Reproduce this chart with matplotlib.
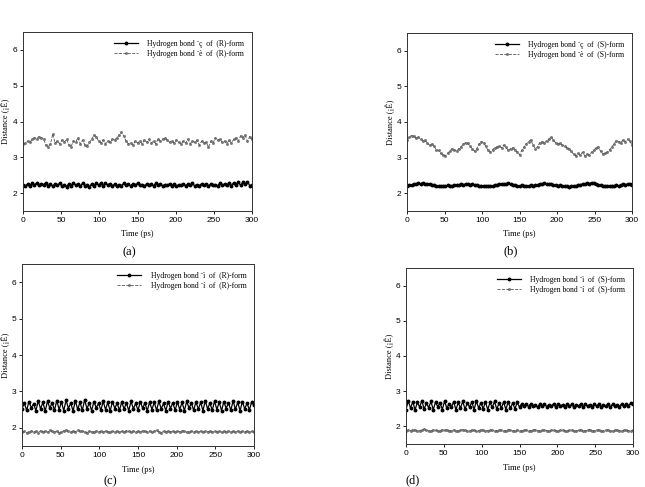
import matplotlib
matplotlib.use('Agg')
import matplotlib.pyplot as plt
import numpy as np

# 时间轴 (ps)，每 3 ps 读一个点
time_ps = np.arange(0, 301, 3)

# (a) (R)-form
a_bond1 = [2.22, 2.20, 2.25, 2.21, 2.27, 2.23, 2.28, 2.22, 2.26, 2.24,
           2.29, 2.21, 2.25, 2.19, 2.26, 2.22, 2.27, 2.20, 2.24, 2.18,
           2.26, 2.21, 2.28, 2.22, 2.25, 2.19, 2.27, 2.21, 2.24, 2.17,
           2.26, 2.20, 2.29, 2.22, 2.27, 2.21, 2.28, 2.23, 2.26, 2.20,
           2.25, 2.19, 2.24, 2.21, 2.27, 2.22, 2.25, 2.20, 2.26, 2.23,
           2.27, 2.22, 2.24, 2.20, 2.26, 2.23, 2.25, 2.21, 2.27, 2.22,
           2.25, 2.20, 2.24, 2.22, 2.26, 2.21, 2.25, 2.19, 2.24, 2.22,
           2.26, 2.21, 2.25, 2.22, 2.27, 2.20, 2.24, 2.21, 2.26, 2.23,
           2.25, 2.20, 2.26, 2.22, 2.24, 2.21, 2.27, 2.23, 2.25, 2.22,
           2.28, 2.21, 2.29, 2.24, 2.31, 2.22, 2.30, 2.25, 2.32, 2.21,
           2.22]
a_bond2 = [3.36, 3.40, 3.45, 3.42, 3.50, 3.55, 3.52, 3.58, 3.55, 3.50,
           3.35, 3.30, 3.38, 3.65, 3.40, 3.45, 3.38, 3.48, 3.42, 3.50,
           3.35, 3.30, 3.45, 3.42, 3.55, 3.38, 3.48, 3.35, 3.32, 3.42,
           3.50, 3.62, 3.58, 3.45, 3.40, 3.48, 3.38, 3.45, 3.42, 3.50,
           3.48, 3.55, 3.62, 3.70, 3.60, 3.45, 3.38, 3.40, 3.35, 3.45,
           3.40, 3.45, 3.38, 3.48, 3.42, 3.50, 3.40, 3.45, 3.38, 3.52,
           3.45, 3.50, 3.55, 3.48, 3.42, 3.45, 3.40, 3.48, 3.42, 3.38,
           3.45, 3.40, 3.50, 3.38, 3.45, 3.42, 3.48, 3.35, 3.45, 3.40,
           3.42, 3.28, 3.45, 3.40, 3.55, 3.48, 3.50, 3.42, 3.45, 3.38,
           3.48, 3.40, 3.50, 3.55, 3.45, 3.60, 3.55, 3.62, 3.45, 3.58,
           3.50]

# (b) (S)-form
b_bond1 = [2.20, 2.24, 2.22, 2.26, 2.25, 2.28, 2.26, 2.29, 2.27, 2.26,
           2.25, 2.23, 2.22, 2.20, 2.21, 2.19, 2.21, 2.20, 2.22, 2.19,
           2.21, 2.22, 2.24, 2.23, 2.25, 2.24, 2.26, 2.25, 2.24, 2.26,
           2.24, 2.22, 2.21, 2.19, 2.21, 2.20, 2.19, 2.21, 2.20, 2.23,
           2.24, 2.26, 2.25, 2.27, 2.26, 2.28, 2.25, 2.24, 2.22, 2.21,
           2.20, 2.22, 2.19, 2.21, 2.20, 2.22, 2.21, 2.23, 2.24, 2.26,
           2.25, 2.28, 2.26, 2.27, 2.25, 2.23, 2.22, 2.21, 2.22, 2.20,
           2.21, 2.19, 2.18, 2.20, 2.19, 2.21, 2.22, 2.24, 2.26, 2.25,
           2.28, 2.27, 2.30, 2.28, 2.26, 2.24, 2.22, 2.21, 2.20, 2.19,
           2.21, 2.19, 2.20, 2.22, 2.20, 2.23, 2.25, 2.24, 2.26, 2.25,
           2.24]
b_bond2 = [3.50, 3.58, 3.62, 3.60, 3.55, 3.58, 3.52, 3.48, 3.50, 3.40,
           3.35, 3.38, 3.32, 3.22, 3.20, 3.12, 3.08, 3.05, 3.12, 3.18,
           3.25, 3.22, 3.18, 3.25, 3.30, 3.38, 3.42, 3.40, 3.32, 3.25,
           3.18, 3.25, 3.38, 3.45, 3.42, 3.32, 3.20, 3.15, 3.22, 3.28,
           3.30, 3.32, 3.28, 3.35, 3.30, 3.20, 3.25, 3.28, 3.22, 3.15,
           3.08, 3.20, 3.30, 3.38, 3.45, 3.50, 3.35, 3.25, 3.30, 3.42,
           3.45, 3.40, 3.48, 3.52, 3.58, 3.50, 3.42, 3.38, 3.40, 3.35,
           3.32, 3.28, 3.25, 3.18, 3.10, 3.05, 3.12, 3.08, 3.15, 3.05,
           3.10, 3.08, 3.15, 3.20, 3.28, 3.30, 3.18, 3.10, 3.12, 3.15,
           3.22, 3.30, 3.38, 3.48, 3.45, 3.42, 3.50, 3.45, 3.52, 3.48,
           3.35]

# (c) (R)-form
c_bond1 = [2.52, 2.68, 2.48, 2.72, 2.55, 2.66, 2.47, 2.74, 2.52, 2.70,
           2.46, 2.73, 2.54, 2.69, 2.48, 2.75, 2.50, 2.71, 2.47, 2.76,
           2.53, 2.68, 2.46, 2.74, 2.51, 2.70, 2.48, 2.77, 2.52, 2.69,
           2.47, 2.72, 2.55, 2.67, 2.48, 2.73, 2.50, 2.70, 2.46, 2.72,
           2.53, 2.68, 2.48, 2.71, 2.51, 2.69, 2.47, 2.73, 2.52, 2.67,
           2.48, 2.72, 2.54, 2.68, 2.47, 2.71, 2.50, 2.70, 2.48, 2.73,
           2.52, 2.67, 2.47, 2.72, 2.53, 2.69, 2.48, 2.71, 2.50, 2.70,
           2.47, 2.73, 2.54, 2.68, 2.48, 2.72, 2.51, 2.70, 2.47, 2.74,
           2.52, 2.68, 2.48, 2.73, 2.50, 2.71, 2.47, 2.72, 2.53, 2.69,
           2.48, 2.74, 2.51, 2.70, 2.47, 2.72, 2.52, 2.68, 2.49, 2.71,
           2.62]
c_bond2 = [1.88, 1.90, 1.87, 1.89, 1.91, 1.88, 1.90, 1.87, 1.92, 1.89,
           1.91, 1.88, 1.93, 1.90, 1.88, 1.91, 1.87, 1.89, 1.92, 1.94,
           1.90, 1.88, 1.91, 1.89, 1.93, 1.90, 1.92, 1.88, 1.87, 1.90,
           1.89, 1.88, 1.91, 1.89, 1.90, 1.88, 1.91, 1.89, 1.88, 1.90,
           1.89, 1.91, 1.88, 1.90, 1.89, 1.92, 1.90, 1.88, 1.91, 1.89,
           1.90, 1.88, 1.92, 1.90, 1.89, 1.91, 1.88, 1.90, 1.93, 1.89,
           1.87, 1.90, 1.88, 1.91, 1.89, 1.90, 1.88, 1.91, 1.89, 1.92,
           1.90, 1.88, 1.89, 1.91, 1.88, 1.90, 1.89, 1.91, 1.88, 1.90,
           1.89, 1.91, 1.88, 1.90, 1.89, 1.91, 1.88, 1.90, 1.89, 1.91,
           1.88, 1.90, 1.89, 1.91, 1.88, 1.90, 1.89, 1.91, 1.88, 1.90,
           1.89]

# (d) (S)-form
d_bond1 = [2.48, 2.72, 2.52, 2.70, 2.47, 2.68, 2.55, 2.73, 2.49, 2.66,
           2.53, 2.71, 2.47, 2.69, 2.56, 2.67, 2.48, 2.72, 2.51, 2.65,
           2.54, 2.70, 2.47, 2.68, 2.52, 2.71, 2.49, 2.66, 2.55, 2.69,
           2.48, 2.72, 2.52, 2.67, 2.50, 2.70, 2.47, 2.68, 2.54, 2.71,
           2.49, 2.66, 2.53, 2.69, 2.48, 2.70, 2.52, 2.66, 2.50, 2.68,
           2.55, 2.64, 2.57, 2.63, 2.56, 2.65, 2.57, 2.62, 2.55, 2.64,
           2.58, 2.63, 2.56, 2.62, 2.57, 2.64, 2.55, 2.63, 2.58, 2.62,
           2.56, 2.64, 2.57, 2.63, 2.55, 2.62, 2.58, 2.64, 2.56, 2.63,
           2.57, 2.62, 2.55, 2.64, 2.58, 2.63, 2.56, 2.62, 2.57, 2.64,
           2.55, 2.63, 2.58, 2.62, 2.56, 2.64, 2.57, 2.63, 2.59, 2.66,
           2.64]
d_bond2 = [1.87, 1.90, 1.88, 1.91, 1.89, 1.87, 1.88, 1.90, 1.92, 1.89,
           1.87, 1.88, 1.90, 1.89, 1.87, 1.88, 1.91, 1.89, 1.90, 1.87,
           1.88, 1.90, 1.88, 1.87, 1.89, 1.91, 1.89, 1.87, 1.88, 1.90,
           1.89, 1.87, 1.88, 1.91, 1.89, 1.87, 1.88, 1.90, 1.89, 1.87,
           1.88, 1.90, 1.89, 1.87, 1.88, 1.91, 1.89, 1.87, 1.88, 1.90,
           1.88, 1.87, 1.89, 1.90, 1.88, 1.87, 1.89, 1.91, 1.88, 1.87,
           1.89, 1.90, 1.88, 1.87, 1.89, 1.90, 1.88, 1.87, 1.89, 1.91,
           1.88, 1.87, 1.89, 1.90, 1.88, 1.87, 1.89, 1.90, 1.88, 1.87,
           1.89, 1.91, 1.88, 1.87, 1.89, 1.90, 1.88, 1.87, 1.89, 1.90,
           1.88, 1.87, 1.89, 1.90, 1.88, 1.87, 1.89, 1.90, 1.88, 1.87,
           1.89]

panels = [
    ('(a)', a_bond1, a_bond2, 'Hydrogen bond \u00a8\u00e7  of  (R)-form', 'Hydrogen bond \u00a8\u00e8  of  (R)-form'),
    ('(b)', b_bond1, b_bond2, 'Hydrogen bond \u00a8\u00e7  of  (S)-form', 'Hydrogen bond \u00a8\u00e8  of  (S)-form'),
    ('(c)', c_bond1, c_bond2, 'Hydrogen bond \u00a8\u00ec  of  (R)-form', 'Hydrogen bond \u00a8\u00ed  of  (R)-form'),
    ('(d)', d_bond1, d_bond2, 'Hydrogen bond \u00a8\u00ec  of  (S)-form', 'Hydrogen bond \u00a8\u00ed  of  (S)-form'),
]

# 各子图的位置 (像素换算成比例)
W, H = 645, 487
boxes = [(23, 252, 32, 211), (407, 632, 33, 211), (22, 254, 264, 446), (406, 633, 268, 444)]
ylabel_x = [5, 390, 5, 389]   # 纵轴标题中心位置
tag_pos = [(129, 252), (511, 251), (110, 481), (413, 480)]

fig = plt.figure(figsize=(W / 100, H / 100), dpi=100)
serif = 'Liberation Serif'
sans = 'Liberation Sans'

for (tag, s1, s2, lab1, lab2), (x0, x1, y0, y1), yl, (tx, ty) in zip(panels, boxes, ylabel_x, tag_pos):
    ax = fig.add_axes([x0 / W, 1 - y1 / H, (x1 - x0) / W, (y1 - y0) / H])
    ax.plot(time_ps, s1, color='black', lw=0.9, marker='o', ms=1.8, label=lab1)
    ax.plot(time_ps, s2, color='#555555', lw=0.6, ls='--', marker='o', ms=1.6,
            mfc='#777777', mec='#444444', mew=0.3, label=lab2)
    ax.set_xlim(0, 300)
    ax.set_ylim(1.5, 6.5)
    ax.set_xticks([0, 50, 100, 150, 200, 250, 300])
    ax.set_yticks([2, 3, 4, 5, 6])
    ax.tick_params(direction='out', length=2, width=0.6, labelsize=6, pad=2)
    for lbl in ax.get_xticklabels() + ax.get_yticklabels():
        lbl.set_family(sans)
    for sp in ax.spines.values():
        sp.set_linewidth(0.7)
        sp.set_color('#333333')
    ax.set_xlabel('Time (ps)', fontsize=6, family=serif, labelpad=5)
    ax.set_ylabel('Distance (\u00a1\u00ca)', fontsize=6, family=serif,
                  rotation=90, va='center', ha='center')
    ax.yaxis.set_label_coords((yl - x0) / (x1 - x0), 0.5)
    ax.legend(loc='upper right', frameon=False, prop={'family': serif, 'size': 5.5},
              handlelength=3.2, handletextpad=1.2, labelspacing=0.3, borderaxespad=0.6)
    fig.text(tx / W, 1 - ty / H, tag, ha='center', va='center', fontsize=9, family=serif)

fig.savefig('out.png', dpi=100)
